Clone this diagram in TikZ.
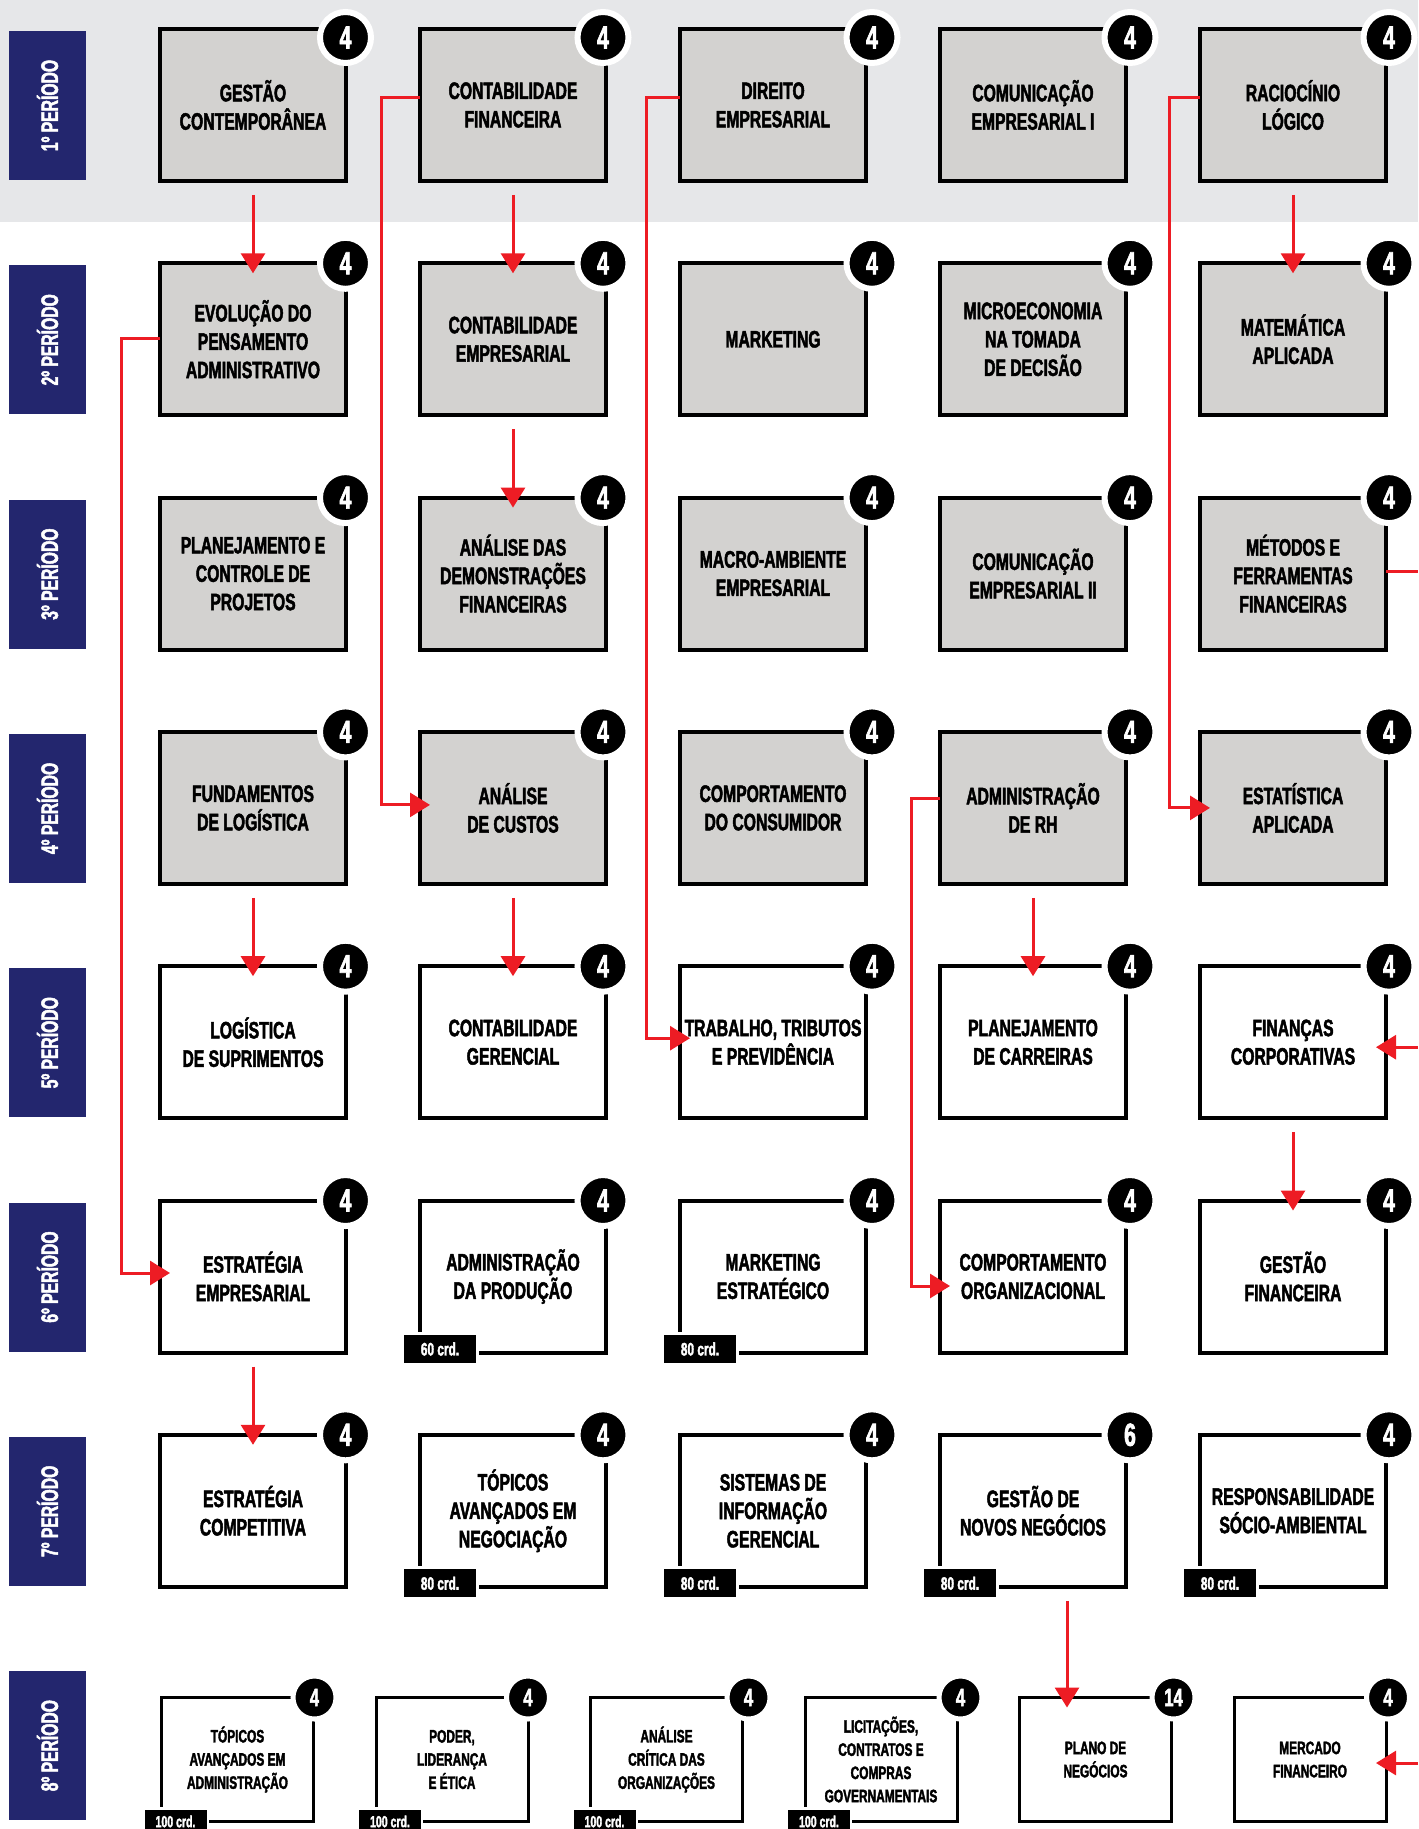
\documentclass[tikz,border=0pt]{standalone}
\usepackage{fontspec}
\newfontfamily\condfont[FakeStretch=0.66,FakeBold=2]{Liberation Sans}
\usetikzlibrary{arrows.meta,positioning}
\definecolor{navy}{HTML}{23266E}
\definecolor{band}{HTML}{E6E7E9}
\definecolor{boxgrey}{HTML}{D3D2D0}
\definecolor{linkred}{HTML}{ED1C24}

\begin{document}
\begin{tikzpicture}[x=0.5pt,y=-0.5pt,
  course/.style={draw=black,line width=2pt,outer sep=0pt,minimum width=93pt,minimum height=76pt,inner sep=0pt,align=center,font=\condfont\bfseries\fontsize{11.9}{14.2}\selectfont},
  oldbox/.style={course,fill=boxgrey},
  newbox/.style={course,fill=white},
  lastbox/.style={draw=black,fill=white,line width=1.5pt,outer sep=0pt,minimum width=76pt,minimum height=62pt,inner sep=0pt,align=center,font=\condfont\bfseries\fontsize{9}{11.6}\selectfont},
  badge/.style={circle,fill=black,draw=white,line width=3pt,minimum size=25.5pt,inner sep=0pt,text=white,font=\condfont\bfseries\fontsize{16}{16}\selectfont},
  smallbadge/.style={badge,line width=2.5pt,minimum size=21.5pt,font=\condfont\bfseries\fontsize{12.5}{12.5}\selectfont},
  crd/.style={fill=black,draw=white,line width=1.5pt,minimum width=37.5pt,minimum height=15.5pt,inner sep=0pt,text=white,font=\condfont\bfseries\fontsize{9}{9}\selectfont},
  smallcrd/.style={crd,line width=1.2pt,minimum width=32.2pt,minimum height=13.2pt,font=\condfont\bfseries\fontsize{8}{8}\selectfont},
  periodtag/.style={fill=navy,rotate=90,minimum width=74.5pt,minimum height=38.5pt,inner sep=0pt,text=white,font=\condfont\bfseries\fontsize{11.9}{11.9}\selectfont},
  link/.style={draw=linkred,line width=1.5pt,-{Triangle[length=10pt,width=12pt]}},
  redline/.style={draw=linkred,line width=1.5pt}
]
\useasboundingbox (0,0) rectangle (1418,1829);
\fill[band] (0,0) rectangle (1418,222);

% periodos
\node[periodtag] (p1) at (47.5,105.5) {1º PERÍODO};
\node[periodtag] (p2) at (47.5,339.8) {2º PERÍODO};
\node[periodtag] (p3) at (47.5,574.1) {3º PERÍODO};
\node[periodtag] (p4) at (47.5,808.4) {4º PERÍODO};
\node[periodtag] (p5) at (47.5,1042.7) {5º PERÍODO};
\node[periodtag] (p6) at (47.5,1277) {6º PERÍODO};
\node[periodtag] (p7) at (47.5,1511.3) {7º PERÍODO};
\node[periodtag] (p8) at (47.5,1745.6) {8º PERÍODO};

% disciplinas
\node[oldbox] (b11) at (253,105) {GESTÃO\\CONTEMPORÂNEA};
\node[oldbox] (b12) at (513,105) {CONTABILIDADE\\FINANCEIRA};
\node[oldbox] (b13) at (773,105) {DIREITO\\EMPRESARIAL};
\node[oldbox] (b14) at (1033,105) {COMUNICAÇÃO\\EMPRESARIAL I};
\node[oldbox] (b15) at (1293,105) {RACIOCÍNIO\\LÓGICO};

\node[oldbox] (b21) at (253,339.3) {EVOLUÇÃO DO\\PENSAMENTO\\ADMINISTRATIVO};
\node[oldbox] (b22) at (513,339.3) {CONTABILIDADE\\EMPRESARIAL};
\node[oldbox] (b23) at (773,339.3) {MARKETING};
\node[oldbox] (b24) at (1033,339.3) {MICROECONOMIA\\NA TOMADA\\DE DECISÃO};
\node[oldbox] (b25) at (1293,339.3) {MATEMÁTICA\\APLICADA};

\node[oldbox] (b31) at (253,573.6) {PLANEJAMENTO E\\CONTROLE DE\\PROJETOS};
\node[oldbox] (b32) at (513,573.6) {ANÁLISE DAS\\DEMONSTRAÇÕES\\FINANCEIRAS};
\node[oldbox] (b33) at (773,573.6) {MACRO-AMBIENTE\\EMPRESARIAL};
\node[oldbox] (b34) at (1033,573.6) {COMUNICAÇÃO\\EMPRESARIAL II};
\node[oldbox] (b35) at (1293,573.6) {MÉTODOS E\\FERRAMENTAS\\FINANCEIRAS};

\node[oldbox] (b41) at (253,807.9) {FUNDAMENTOS\\DE LOGÍSTICA};
\node[oldbox] (b42) at (513,807.9) {ANÁLISE\\DE CUSTOS};
\node[oldbox] (b43) at (773,807.9) {COMPORTAMENTO\\DO CONSUMIDOR};
\node[oldbox] (b44) at (1033,807.9) {ADMINISTRAÇÃO\\DE RH};
\node[oldbox] (b45) at (1293,807.9) {ESTATÍSTICA\\APLICADA};

\node[newbox] (b51) at (253,1042.2) {LOGÍSTICA\\DE SUPRIMENTOS};
\node[newbox] (b52) at (513,1042.2) {CONTABILIDADE\\GERENCIAL};
\node[newbox] (b53) at (773,1042.2) {TRABALHO, TRIBUTOS\\E PREVIDÊNCIA};
\node[newbox] (b54) at (1033,1042.2) {PLANEJAMENTO\\DE CARREIRAS};
\node[newbox] (b55) at (1293,1042.2) {FINANÇAS\\CORPORATIVAS};

\node[newbox] (b61) at (253,1276.5) {ESTRATÉGIA\\EMPRESARIAL};
\node[newbox] (b62) at (513,1276.5) {ADMINISTRAÇÃO\\DA PRODUÇÃO};
\node[newbox] (b63) at (773,1276.5) {MARKETING\\ESTRATÉGICO};
\node[newbox] (b64) at (1033,1276.5) {COMPORTAMENTO\\ORGANIZACIONAL};
\node[newbox] (b65) at (1293,1276.5) {GESTÃO\\FINANCEIRA};

\node[newbox] (b71) at (253,1510.8) {ESTRATÉGIA\\COMPETITIVA};
\node[newbox] (b72) at (513,1510.8) {TÓPICOS\\AVANÇADOS EM\\NEGOCIAÇÃO};
\node[newbox] (b73) at (773,1510.8) {SISTEMAS DE\\INFORMAÇÃO\\GERENCIAL};
\node[newbox] (b74) at (1033,1510.8) {GESTÃO DE\\NOVOS NEGÓCIOS};
\node[newbox] (b75) at (1293,1510.8) {RESPONSABILIDADE\\SÓCIO-AMBIENTAL};

\node[lastbox] (b81) at (237.5,1759.5) {TÓPICOS\\AVANÇADOS EM\\ADMINISTRAÇÃO};
\node[lastbox] (b82) at (452,1759.5) {PODER,\\LIDERANÇA\\E ÉTICA};
\node[lastbox] (b83) at (666.5,1759.5) {ANÁLISE\\CRÍTICA DAS\\ORGANIZAÇÕES};
\node[lastbox] (b84) at (881,1759.5) {LICITAÇÕES,\\CONTRATOS E\\COMPRAS\\GOVERNAMENTAIS};
\node[lastbox] (b85) at (1095.5,1759.5) {PLANO DE\\NEGÓCIOS};
\node[lastbox] (b86) at (1310,1759.5) {MERCADO\\FINANCEIRO};

% creditos
\foreach \c/\dx in {1/-0.25,2/-1.5,3/3,4/2,5/1.5}{
  \node[badge] at ([xshift=\dx pt,yshift=-4.25pt]b1\c.north east) {4};
  \foreach \r in {2,...,7}
    \node[badge] at ([xshift=\dx pt]b\r\c.north east) {\ifnum\r\c=74 6\else 4\fi};
}
\foreach \c/\dx in {1/0.5,2/0,3/3,4/1.75,5/1,6/1}
  \node[smallbadge] at ([xshift=\dx pt]b8\c.north east) {\ifnum\c=5 14\else 4\fi};

\node[crd] at ([xshift=10pt,yshift=1.75pt]b62.south west) {60 crd.};
\node[crd] at ([xshift=10pt,yshift=1.75pt]b63.south west) {80 crd.};
\node[crd] at ([xshift=10pt,yshift=1.75pt]b72.south west) {80 crd.};
\node[crd] at ([xshift=10pt,yshift=1.75pt]b73.south west) {80 crd.};
\node[crd] at ([xshift=10pt,yshift=1.75pt]b74.south west) {80 crd.};
\node[crd] at ([xshift=10pt,yshift=1.75pt]b75.south west) {80 crd.};
\node[smallcrd] at ([xshift=7pt]b81.south west) {100 crd.};
\node[smallcrd] at ([xshift=7pt]b82.south west) {100 crd.};
\node[smallcrd] at ([xshift=7pt]b83.south west) {100 crd.};
\node[smallcrd] at ([xshift=7pt]b84.south west) {100 crd.};

% pre-requisitos
\draw[link] ([yshift=-7pt]b11.south) -- ([yshift=-5pt]b21.north);
\draw[link] ([yshift=-7pt]b12.south) -- ([yshift=-5pt]b22.north);
\draw[link] ([yshift=-7pt]b22.south) -- ([yshift=-5pt]b32.north);
\draw[link] ([yshift=-7pt]b15.south) -- ([yshift=-5pt]b25.north);
\draw[link] ([yshift=-7pt]b41.south) -- ([yshift=-5pt]b51.north);
\draw[link] ([yshift=-7pt]b42.south) -- ([yshift=-5pt]b52.north);
\draw[link] ([yshift=-7pt]b44.south) -- ([yshift=-5pt]b54.north);
\draw[link] ([yshift=-7pt]b55.south) -- ([yshift=-5pt]b65.north);
\draw[link] ([yshift=-7pt]b61.south) -- ([yshift=-5pt]b71.north);

\draw[link] ([yshift=3.5pt]b12.west) -- ++(-19.5pt,0) |- ([xshift=5pt,yshift=1.5pt]b42.west);
\draw[link] ([yshift=3.5pt]b13.west) -- ++(-17pt,0) |- ([xshift=5pt,yshift=2pt]b53.west);
\draw[link] ([yshift=3.5pt]b15.west) -- ++(-15.5pt,0) |- ([xshift=5pt]b45.west);
\draw[link] ([yshift=0.5pt]b21.west) -- ++(-19.5pt,0) |- ([xshift=5pt,yshift=1.75pt]b61.west);
\draw[link] ([yshift=4.5pt]b44.west) -- ++(-14.5pt,0) |- ([xshift=5pt,yshift=-4.75pt]b64.west);

\coordinate (p74) at ([xshift=17pt,yshift=-7pt]b74.south);
\coordinate (q85) at ([yshift=-5pt]b85.north);
\draw[link] (p74) -- (p74 |- q85);

\coordinate (edge) at (1418,0);
\coordinate (s35) at ([yshift=1.3pt]b35.east);
\coordinate (t55) at ([xshift=-5pt,yshift=-2.5pt]b55.east);
\coordinate (t86) at ([xshift=-5pt,yshift=-1.75pt]b86.east);
\draw[redline] (s35) -- (s35 -| edge);
\draw[link] (t55 -| edge) -- (t55);
\draw[link] (t86 -| edge) -- (t86);

\end{tikzpicture}
\end{document}
